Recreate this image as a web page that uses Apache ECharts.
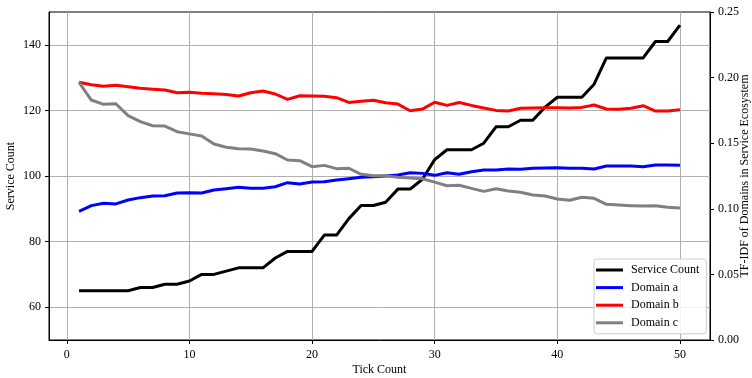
<!DOCTYPE html>
<html>
<head>
<meta charset="utf-8">
<script src="https://cdn.jsdelivr.net/npm/echarts@6/dist/echarts.min.js"></script>
<style>
html,body{margin:0;padding:0;background:#fff;}
#chart{width:752px;height:378px;}
</style>
</head>
<body>
<div id="chart"></div>
<script>
var ticks = [1,2,3,4,5,6,7,8,9,10,11,12,13,14,15,16,17,18,19,20,21,22,23,24,25,26,27,28,29,30,31,32,33,34,35,36,37,38,39,40,41,42,43,44,45,46,47,48,49,50];
var serviceCount = [65,65,65,65,65,66,66,67,67,68,70,70,71,72,72,72,75,77,77,77,82,82,87,91,91,92,96,96,99,105,108,108,108,110,115,115,117,117,121,124,124,124,128,136,136,136,136,141,141,146];
var domainA = [0.0981,0.1024,0.1042,0.1037,0.1067,0.1085,0.1098,0.1100,0.1120,0.1122,0.1120,0.1143,0.1153,0.1164,0.1156,0.1156,0.1168,0.1199,0.1189,0.1205,0.1207,0.1220,0.1229,0.1240,0.1245,0.1250,0.1258,0.1275,0.1270,0.1255,0.1275,0.1263,0.1283,0.1296,0.1296,0.1303,0.1301,0.1309,0.1311,0.1313,0.1309,0.1309,0.1303,0.1326,0.1326,0.1326,0.1321,0.1334,0.1334,0.1331];
var domainB = [0.1964,0.1946,0.1934,0.1941,0.1931,0.1918,0.1911,0.1905,0.1885,0.1889,0.1880,0.1877,0.1872,0.1860,0.1885,0.1898,0.1875,0.1834,0.1862,0.1860,0.1857,0.1847,0.1811,0.1819,0.1828,0.1808,0.1798,0.1747,0.1760,0.1812,0.1788,0.1810,0.1788,0.1769,0.1750,0.1746,0.1766,0.1768,0.1771,0.1771,0.1768,0.1773,0.1791,0.1761,0.1758,0.1766,0.1786,0.1745,0.1745,0.1755];
var domainC = [0.1964,0.1829,0.1796,0.1801,0.1710,0.1664,0.1633,0.1631,0.1588,0.1571,0.1555,0.1494,0.1469,0.1458,0.1456,0.1441,0.1420,0.1372,0.1367,0.1321,0.1331,0.1306,0.1309,0.1263,0.1252,0.1252,0.1240,0.1235,0.1229,0.1203,0.1176,0.1179,0.1156,0.1133,0.1153,0.1136,0.1126,0.1105,0.1098,0.1075,0.1065,0.1088,0.1080,0.1034,0.1029,0.1024,0.1021,0.1024,0.1011,0.1006];
var xTickValues = [0,10,20,30,40,50];
var leftTickValues = [60,80,100,120,140];
var seriesNames = ['Service Count','Domain a','Domain b','Domain c'];
var seriesColors = ['#000000','#0000ff','#ff0000','#808080'];

function pairs(ys){ return ticks.map(function(t,i){ return [t, ys[i]]; }); }

var font = 'Liberation Serif';
var chart = echarts.init(document.getElementById('chart'), null, {renderer:'canvas'});
var seriesData = [serviceCount, domainA, domainB, domainC];
var series = seriesNames.map(function(n,i){
  return {
    name: n, type: 'line', yAxisIndex: i === 0 ? 0 : 1,
    data: pairs(seriesData[i]), symbol: 'none', showSymbol: false,
    lineStyle: {color: seriesColors[i], width: 3, join: 'round'},
    itemStyle: {color: seriesColors[i]},
    z: 2 + i
  };
});
chart.setOption({
  animation: false,
  backgroundColor: '#fff',
  textStyle: {fontFamily: font, color: '#000'},
  grid: {left: 49, right: 42, top: 12, bottom: 38, containLabel: false, outerBoundsMode: 'none',
         show: true, borderColor: '#000', borderWidth: 1, backgroundColor: 'transparent'},
  legend: {
    left: 594, top: 259, orient: 'vertical',
    data: seriesNames.map(function(n){ return {name: n, icon: 'rect'}; }),
    itemWidth: 27, itemHeight: 3, itemGap: 3.6,
    padding: [4, 7, 4, 2],
    backgroundColor: 'rgba(255,255,255,0.85)', borderColor: '#cccccc', borderWidth: 1, borderRadius: 3,
    textStyle: {fontFamily: font, fontSize: 12, color: '#000', lineHeight: 14, padding: [0,0,0,3]}
  },
  xAxis: {
    type: 'value', min: -1.45, max: 52.45,
    name: 'Tick Count', nameLocation: 'middle', nameGap: 24, nameMoveOverlap: false,
    nameTextStyle: {fontFamily: font, fontSize: 12, color: '#000'},
    axisLine: {show: true, onZero: false, lineStyle: {color: '#000', width: 1}},
    axisTick: {show: true, length: 4, inside: false, customValues: xTickValues, lineStyle: {color: '#000'}},
    axisLabel: {customValues: xTickValues, fontFamily: font, fontSize: 12, color: '#000', margin: 9},
    splitLine: {show: true, lineStyle: {color: '#b0b0b0', width: 1}}
  },
  yAxis: [{
    type: 'value', min: 50, max: 150, position: 'left',
    name: 'Service Count', nameLocation: 'middle', nameGap: 32, nameRotate: 90, nameMoveOverlap: false,
    nameTextStyle: {fontFamily: font, fontSize: 12, color: '#000'},
    axisLine: {show: true, onZero: false, lineStyle: {color: '#000', width: 1}},
    axisTick: {show: true, length: 4, inside: false, customValues: leftTickValues, lineStyle: {color: '#000'}},
    axisLabel: {customValues: leftTickValues, fontFamily: font, fontSize: 12, color: '#000', margin: 8},
    splitLine: {show: true, lineStyle: {color: '#b0b0b0', width: 1}}
  }, {
    type: 'value', min: 0, max: 0.25, interval: 0.05, position: 'right',
    name: 'TF-IDF of Domains in Service Ecosystem', nameLocation: 'middle', nameGap: 29, nameRotate: 90, nameMoveOverlap: false,
    nameTextStyle: {fontFamily: font, fontSize: 12, color: '#000'},
    axisLine: {show: true, onZero: false, lineStyle: {color: '#000', width: 1}},
    axisTick: {show: true, length: 4, inside: false, lineStyle: {color: '#000'}},
    axisLabel: {fontFamily: font, fontSize: 12, color: '#000', margin: 8, formatter: function(v){ return v.toFixed(2); }},
    splitLine: {show: false}
  }],
  series: series
});
</script>
</body>
</html>
